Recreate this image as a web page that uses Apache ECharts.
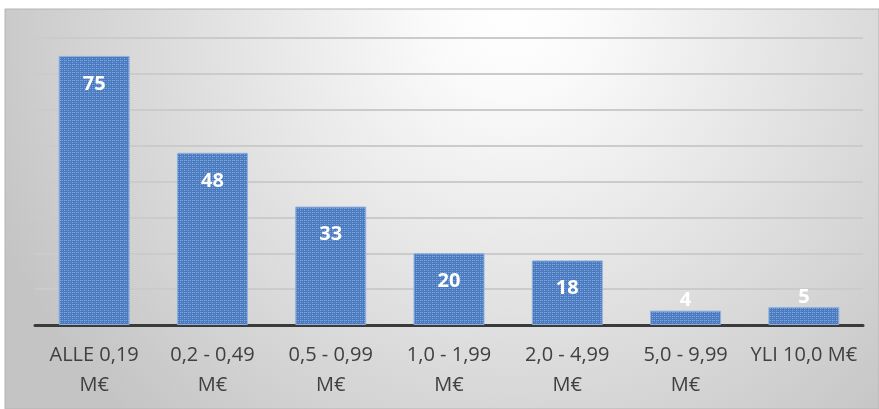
<!DOCTYPE html>
<html>
<head>
<meta charset="utf-8">
<script src="https://cdn.jsdelivr.net/npm/echarts@6/dist/echarts.min.js"></script>
<style>
  html, body { margin: 0; padding: 0; background: #ffffff; }
  #chart { width: 879px; height: 409px; }
</style>
</head>
<body>
<div id="chart"></div>
<script>
// categories and values
const categories = [
  "ALLE 0,19 M€",
  "0,2 - 0,49 M€",
  "0,5 - 0,99 M€",
  "1,0 - 1,99 M€",
  "2,0 - 4,99 M€",
  "5,0 - 9,99 M€",
  "YLI 10,0 M€"
];
const counts = [75, 48, 33, 20, 18, 4, 5];

const yMin = 0;
const yMax = 80;
const yStep = 10;

// dotted blue fill like the original bars
function makePattern() {
  const c = document.createElement("canvas");
  c.width = 4;
  c.height = 4;
  const ctx = c.getContext("2d");
  ctx.fillStyle = "#4a7abf";
  ctx.fillRect(0, 0, 4, 4);
  ctx.fillStyle = "#80a6da";
  ctx.fillRect(0, 0, 1, 1);
  ctx.fillRect(2, 0, 1, 1);
  ctx.fillRect(0, 2, 1, 1);
  ctx.fillStyle = "#5e8bca";
  ctx.fillRect(2, 2, 1, 1);
  ctx.fillRect(1, 0, 1, 1);
  return c;
}

// long labels go onto two lines, "M€" below (as in the original)
function wrapLabel(text) {
  return text.length > 11 ? text.replace(/ M€$/, "\nM€") : text;
}

const chart = echarts.init(document.getElementById("chart"));
const barFill = { image: makePattern(), repeat: "repeat" };

chart.setOption({
  animation: false,
  textStyle: { fontFamily: "Open Sans" },
  graphic: {
    elements: [
      {
        type: "rect",
        z: -10,
        silent: true,
        shape: { x: 5, y: 9, width: 874, height: 400 },
        style: {
          fill: new echarts.graphic.RadialGradient(0.58, 0, 1.4, [
            { offset: 0, color: "#ffffff" },
            { offset: 0.15, color: "#fafafa" },
            { offset: 1, color: "#c4c4c4" }
          ]),
          stroke: "#b4b4b4",
          lineWidth: 1
        }
      }
    ]
  },
  grid: { left: 35, right: 16, top: 38, bottom: 84 },
  xAxis: {
    type: "category",
    data: categories,
    axisLine: { show: true, lineStyle: { color: "#3a3a3a", width: 3 } },
    axisTick: { show: false },
    axisLabel: {
      color: "#404040",
      fontSize: 20,
      lineHeight: 30,
      margin: 15,
      interval: 0,
      formatter: wrapLabel
    }
  },
  yAxis: {
    type: "value",
    min: yMin,
    max: yMax,
    interval: yStep,
    axisLine: { show: false },
    axisTick: { show: false },
    axisLabel: { show: false },
    splitLine: { lineStyle: { color: "#cbcbcb", width: 2 } }
  },
  series: [
    {
      type: "bar",
      data: counts.map(v => ({
        value: v,
        label: v < 10
          ? { position: "top", distance: 0 }
          : { position: "insideTop", distance: 18 }
      })),
      barCategoryGap: "40%",
      itemStyle: { color: barFill, borderColor: "#8fb0de", borderWidth: 1 },
      label: {
        show: true,
        color: "#ffffff",
        fontWeight: "bold",
        fontSize: 20
      }
    }
  ]
});
</script>
</body>
</html>
